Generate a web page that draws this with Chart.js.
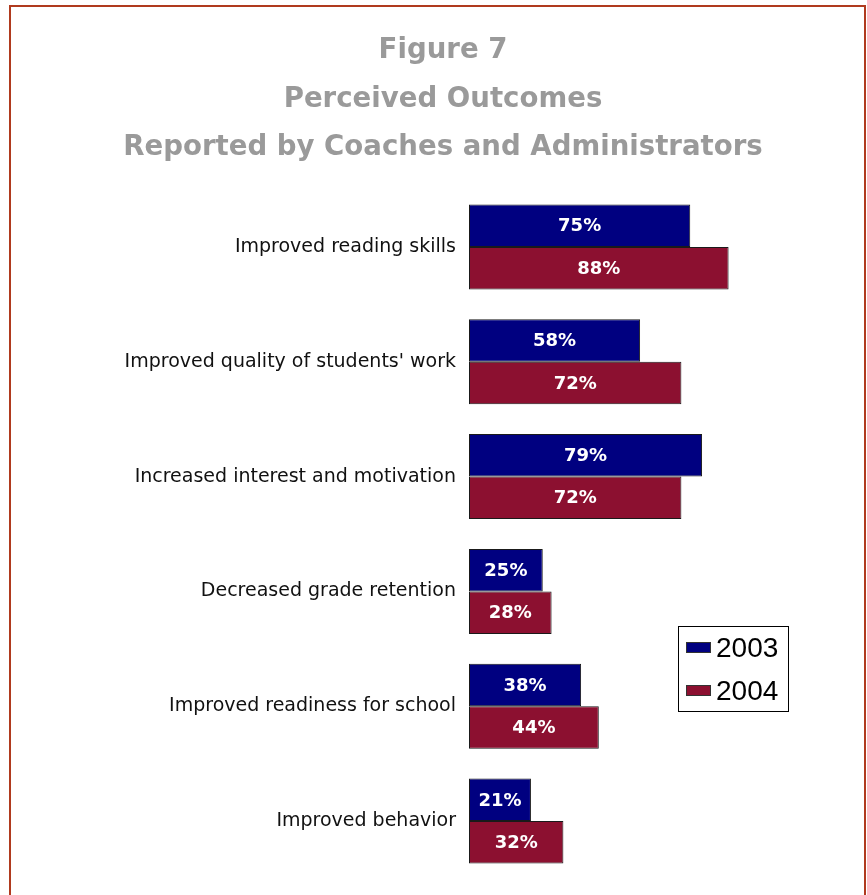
<!DOCTYPE html>
<html>
<head>
<meta charset="utf-8">
<script src="https://cdn.jsdelivr.net/npm/chart.js@4.4.1/dist/chart.umd.min.js"></script>
<style>
  html, body { margin: 0; padding: 0; background: #ffffff; overflow: hidden; }
  #wrap { position: relative; width: 867px; height: 895px; }
  #frame { position: absolute; left: 9px; top: 5px; width: 857px; height: 1000px;
           border: 2px solid #b03a1e; box-sizing: border-box; }
  canvas { position: absolute; left: 0; top: 0; }
</style>
</head>
<body>
<div id="wrap">
  <div id="frame"></div>
  <canvas id="c" width="867" height="895"></canvas>
</div>
<script>
// Survey outcomes, percent of respondents
const categories = [
  "Improved reading skills",
  "Improved quality of students' work",
  "Increased interest and motivation",
  "Decreased grade retention",
  "Improved readiness for school",
  "Improved behavior"
];
const seriesNames = ["2003", "2004"];
const values2003 = [75, 58, 79, 25, 38, 21];
const values2004 = [88, 72, 72, 28, 44, 32];
const titleLines = ["Figure 7", "Perceived Outcomes", "Reported by Coaches and Administrators"];
const colors = ["#000080", "#8c1030"];

const labelFont = "'DejaVu Sans', sans-serif";

// Figure heading above the plot
const headingPlugin = {
  id: 'heading',
  afterDraw(chart) {
    const ctx = chart.ctx;
    ctx.save();
    ctx.fillStyle = '#9a9a9a';
    ctx.font = "bold 27.6px " + labelFont;
    ctx.textAlign = 'center';
    ctx.textBaseline = 'middle';
    const ys = [51, 100, 148];
    titleLines.forEach((t, i) => ctx.fillText(t, 443, ys[i]));
    ctx.restore();
  }
};

// Percent labels centred inside each bar
const valueLabels = {
  id: 'valueLabels',
  afterDatasetsDraw(chart) {
    const ctx = chart.ctx;
    ctx.save();
    ctx.fillStyle = '#ffffff';
    ctx.font = "bold 18px " + labelFont;
    ctx.textAlign = 'center';
    ctx.textBaseline = 'middle';
    chart.data.datasets.forEach((ds, di) => {
      chart.getDatasetMeta(di).data.forEach((bar, i) => {
        const cx = (bar.x + bar.base) / 2;
        ctx.fillText(ds.data[i] + '%', cx, bar.y + 1);
      });
    });
    ctx.restore();
  }
};

// Boxed legend in the lower right
const boxLegend = {
  id: 'boxLegend',
  afterDraw(chart) {
    const ctx = chart.ctx;
    const x0 = 678, y0 = 626, w = 110, h = 85;
    ctx.save();
    ctx.fillStyle = '#ffffff';
    ctx.fillRect(x0, y0, w, h);
    ctx.strokeStyle = '#000000';
    ctx.lineWidth = 1;
    ctx.strokeRect(x0 + 0.5, y0 + 0.5, w, h);
    ctx.font = "28px 'Liberation Sans', Arial, sans-serif";
    ctx.textBaseline = 'middle';
    ctx.textAlign = 'left';
    chart.data.datasets.forEach((ds, i) => {
      const cy = y0 + 21 + i * 43;
      ctx.fillStyle = ds.backgroundColor;
      ctx.fillRect(686, cy - 5, 25, 11);
      ctx.strokeStyle = '#333333';
      ctx.strokeRect(686.5, cy - 4.5, 24, 10);
      ctx.fillStyle = '#000000';
      ctx.fillText(ds.label, 716, cy + 2);
    });
    ctx.restore();
  }
};

new Chart(document.getElementById('c'), {
  type: 'bar',
  data: {
    labels: categories,
    datasets: [
      { label: seriesNames[0], data: values2003, backgroundColor: colors[0],
        borderColor: '#1a1a1a', borderWidth: 1, borderSkipped: false },
      { label: seriesNames[1], data: values2004, backgroundColor: colors[1],
        borderColor: '#1a1a1a', borderWidth: 1, borderSkipped: false }
    ]
  },
  options: {
    indexAxis: 'y',
    responsive: false,
    animation: false,
    devicePixelRatio: 1,
    layout: { padding: { left: 0, right: 103, top: 189.5, bottom: 16.5 } },
    datasets: { bar: { categoryPercentage: 0.74, barPercentage: 1.0 } },
    scales: {
      x: { display: false, min: 0, max: 100 },
      y: {
        grid: { display: false, drawTicks: false },
        border: { display: false },
        ticks: {
          color: '#111111',
          padding: 13,
          font: { family: labelFont, size: 19 }
        },
        afterFit(scale) {
          scale.width = 469;
          scale.paddingTop = 0;
          scale.paddingBottom = 0;
        }
      }
    },
    plugins: {
      legend: { display: false },
      tooltip: { enabled: false },
      title: { display: false }
    }
  },
  plugins: [headingPlugin, valueLabels, boxLegend]
});
</script>
</body>
</html>
